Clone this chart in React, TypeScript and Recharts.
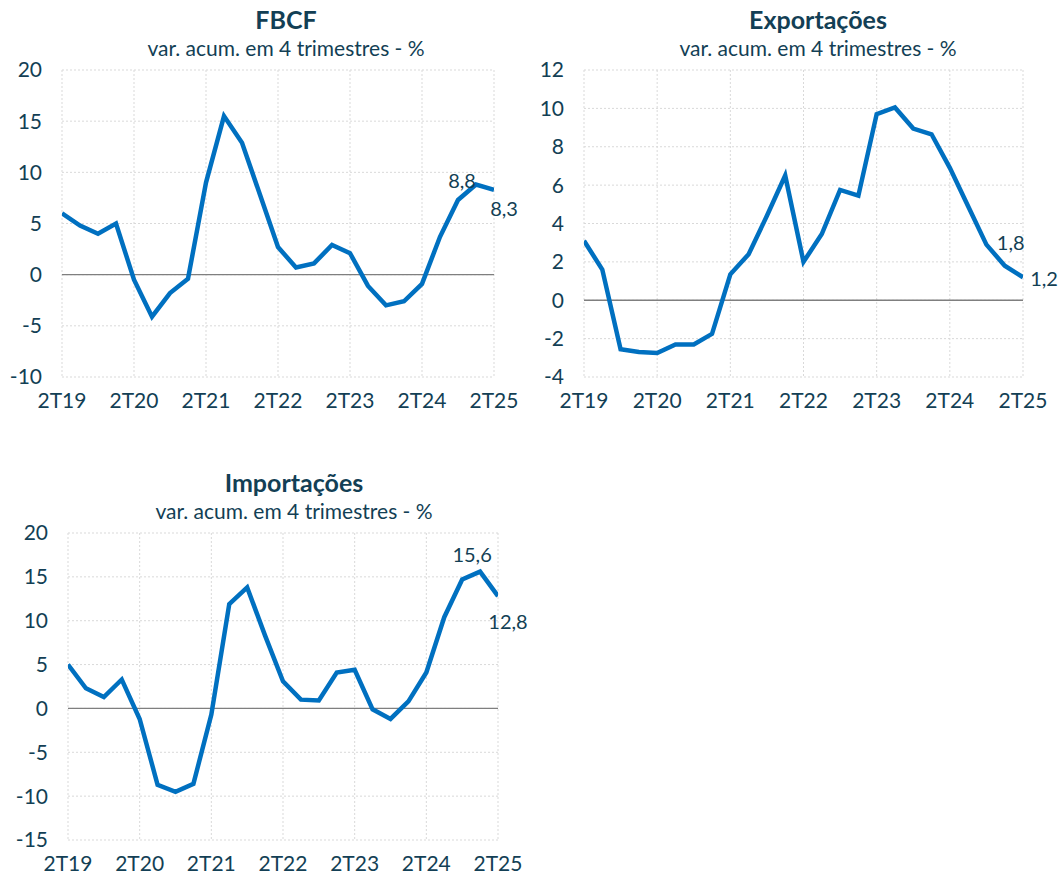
import React from 'react';
import { LineChart, Line, XAxis, YAxis, CartesianGrid, ReferenceLine } from 'recharts';

const quarters = [
  '2T19','3T19','4T19','1T20','2T20','3T20','4T20','1T21','2T21','3T21','4T21','1T22','2T22',
  '3T22','4T22','1T23','2T23','3T23','4T23','1T24','2T24','3T24','4T24','1T25','2T25',
];
const xTicks = [0, 4, 8, 12, 16, 20, 24];

const fbcf = [6.0, 4.8, 4.0, 5.0, -0.5, -4.1, -1.8, -0.4, 9.0, 15.5, 12.9, 7.8, 2.7, 0.7, 1.1, 2.9, 2.1, -1.1, -3.0, -2.6, -0.9, 3.7, 7.3, 8.8, 8.3];
const exportacoes = [3.1, 1.6, -2.55, -2.7, -2.75, -2.3, -2.3, -1.75, 1.35, 2.4, 4.4, 6.5, 2.0, 3.45, 5.75, 5.45, 9.7, 10.05, 8.95, 8.65, 6.9, 4.9, 2.9, 1.8, 1.2];
const importacoes = [5.0, 2.3, 1.3, 3.3, -1.2, -8.7, -9.5, -8.6, -0.7, 11.9, 13.8, 8.3, 3.1, 1.0, 0.9, 4.1, 4.4, -0.1, -1.2, 0.8, 4.1, 10.4, 14.7, 15.6, 12.8];

const fbcfTicks = [-10, -5, 0, 5, 10, 15, 20];
const expTicks = [-4, -2, 0, 2, 4, 6, 8, 10, 12];
const impTicks = [-15, -10, -5, 0, 5, 10, 15, 20];

const subtitle = 'var. acum. em 4 trimestres - %';
const TEXT = '#133f55';
const LINE = '#0070c0';
const FONT = 'Lato, "Open Sans", sans-serif';

const fmt = (v: number) => v.toFixed(1).replace('.', ',');

type LabelOffsets = Record<number, [number, number]>;

function makeLabel(offsets: LabelOffsets) {
  return (props: any) => {
    const { x, y, index, value } = props;
    const off = offsets[index];
    if (!off) return null;
    return (
      <text key={`l${index}`} x={x + off[0]} y={y + off[1]} textAnchor="middle" dominantBaseline="central"
        fill={TEXT} fontSize={20} fontFamily={FONT}>
        {fmt(value)}
      </text>
    );
  };
}

interface PanelProps {
  left: number; top: number; width: number; height: number;
  title: string; values: number[]; yTicks: number[];
  plotLeft: number; plotRight: number; plotTop: number; plotBottom: number;
  titleX: number; offsets: LabelOffsets;
}

function Panel(p: PanelProps) {
  const data = quarters.map((q, i) => ({ i, q, v: p.values[i] }));
  return (
    <div style={{ position: 'absolute', left: p.left, top: p.top, width: p.width, height: p.height }}>
      <div style={{ position: 'absolute', left: p.titleX - 200, width: 400, top: 4, textAlign: 'center',
        fontFamily: FONT, fontWeight: 700, fontSize: 25, color: TEXT, lineHeight: '30px' }}>{p.title}</div>
      <div style={{ position: 'absolute', left: p.titleX - 200, width: 400, top: 35, textAlign: 'center',
        fontFamily: FONT, fontSize: 21, color: TEXT, lineHeight: '26px' }}>{subtitle}</div>
      <div style={{ position: 'absolute', left: 0, top: 0 }}>
        <LineChart width={p.width} height={p.height} data={data}
          margin={{ top: p.plotTop, right: p.width - p.plotRight, bottom: 0, left: 0 }}>
          <CartesianGrid stroke="#d9d9d9" strokeDasharray="2 2" />
          <XAxis dataKey="i" type="number" domain={[0, 24]} ticks={xTicks} allowDataOverflow
            tickFormatter={(v: number) => quarters[v]} axisLine={false} tickLine={false}
            tickSize={0} tickMargin={16} height={p.height - p.plotBottom}
            tick={{ fill: TEXT, fontSize: 21, fontFamily: FONT }} interval={0} />
          <YAxis type="number" domain={[p.yTicks[0], p.yTicks[p.yTicks.length - 1]]} ticks={p.yTicks}
            width={p.plotLeft} axisLine={false} tickLine={false} tickSize={0} tickMargin={20}
            tick={{ fill: TEXT, fontSize: 21, fontFamily: FONT }} interval={0} />
          <ReferenceLine y={0} stroke="#7f7f7f" strokeWidth={1.3} />
          <Line type="linear" dataKey="v" stroke={LINE} strokeWidth={4.5} dot={false}
            isAnimationActive={false} label={makeLabel(p.offsets)} />
        </LineChart>
      </div>
    </div>
  );
}

export default function App() {
  return (
    <div style={{ position: 'absolute', left: 0, top: 0, width: 1059, height: 881, background: '#fff' }}>
      <Panel left={0} top={0} width={540} height={430} title="FBCF" values={fbcf} yTicks={fbcfTicks}
        plotLeft={62} plotRight={494} plotTop={70} plotBottom={377} titleX={286}
        offsets={{ 23: [-14, -5], 24: [10, 18] }} />
      <Panel left={520} top={0} width={539} height={430} title="Exportações" values={exportacoes} yTicks={expTicks}
        plotLeft={64} plotRight={503} plotTop={70} plotBottom={377} titleX={298}
        offsets={{ 23: [6, -24], 24: [21, 1] }} />
      <Panel left={0} top={463} width={540} height={418} title="Importações" values={importacoes} yTicks={impTicks}
        plotLeft={68} plotRight={498} plotTop={70} plotBottom={377} titleX={294}
        offsets={{ 23: [-8, -18], 24: [10, 25] }} />
    </div>
  );
}
